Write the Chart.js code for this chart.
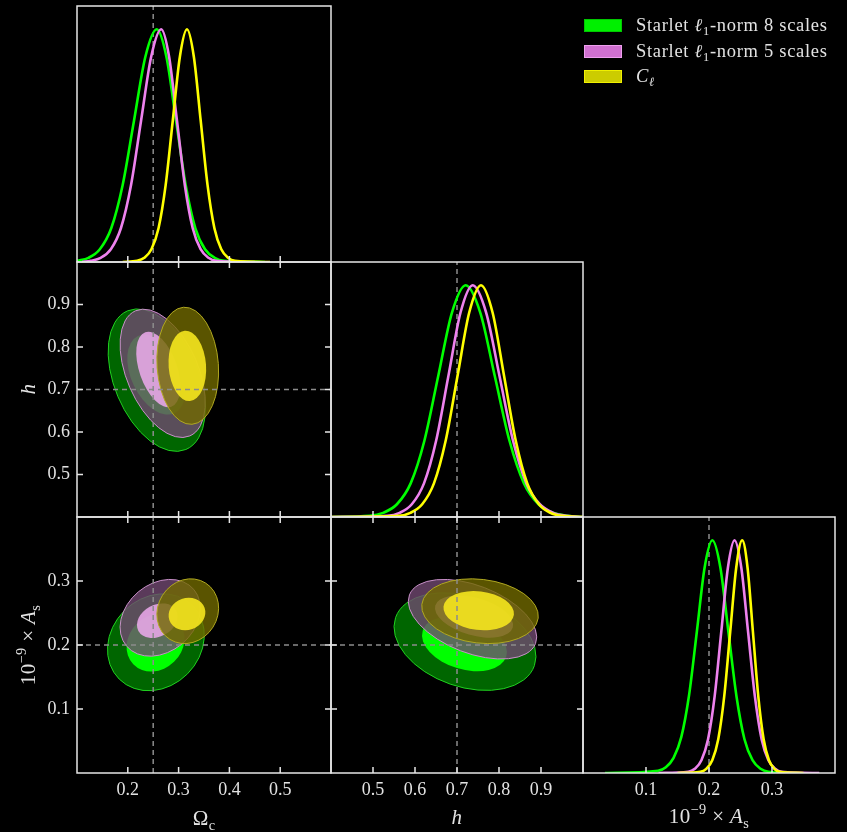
<!DOCTYPE html>
<html>
<head>
<meta charset="utf-8">
<script src="https://cdn.jsdelivr.net/npm/chart.js@4.4.1/dist/chart.umd.min.js"></script>
<style>
  body { margin: 0; background: #000; }
  #wrap { position: relative; width: 847px; height: 832px; background: #000; overflow: hidden;
          font-family: "Liberation Serif", "DejaVu Serif", serif; color: #e2e2e2; }
  #wrap canvas { position: absolute; left: 0; top: 0; }
  .lbl { position: absolute; font-size: 21px; letter-spacing: 0.4px; white-space: nowrap; transform: translate(-50%, -50%); }
  .lbl.rot { transform: translate(-50%, -50%) rotate(-90deg); }
  .sub { font-size: 0.68em; position: relative; top: 0.32em; }
  .sup { font-size: 0.68em; position: relative; top: -0.6em; }
  #legend { position: absolute; left: 584px; top: 13px; font-size: 18.5px; letter-spacing: 0.7px; }
  #legend .row { display: flex; align-items: center; height: 25.5px; }
  #legend .sw { width: 36px; height: 11px; border: 1.5px solid; margin: 0 14px 0 0; }
</style>
</head>
<body>
<div id="wrap">
  <canvas id="c-omc" width="847" height="832"></canvas>
  <canvas id="c-h" width="847" height="832"></canvas>
  <canvas id="c-as" width="847" height="832"></canvas>
  <canvas id="c-omc-h" width="847" height="832"></canvas>
  <canvas id="c-omc-as" width="847" height="832"></canvas>
  <canvas id="c-h-as" width="847" height="832"></canvas>

  <div id="legend">
    <div class="row"><span class="sw" style="background:#00f000;border-color:#00c800"></span><span>Starlet <i>ℓ</i><span class="sub">1</span>-norm 8 scales</span></div>
    <div class="row"><span class="sw" style="background:#d070d0;border-color:#eea0ee"></span><span>Starlet <i>ℓ</i><span class="sub">1</span>-norm 5 scales</span></div>
    <div class="row"><span class="sw" style="background:#cccc00;border-color:#f0f000"></span><span><i>C</i><span class="sub"><i>ℓ</i></span></span></div>
  </div>

  <div class="lbl" style="left:204px;top:818px">Ω<span class="sub">c</span></div>
  <div class="lbl" style="left:457px;top:817px"><i>h</i></div>
  <div class="lbl" style="left:709px;top:816px">10<span class="sup">−9</span> × <i>A</i><span class="sub">s</span></div>
  <div class="lbl rot" style="left:28px;top:389px"><i>h</i></div>
  <div class="lbl rot" style="left:28px;top:645px">10<span class="sup">−9</span> × <i>A</i><span class="sub">s</span></div>
</div>

<script>
/* Corner plot: Ωc, h, 10^-9 As — three runs (Starlet 8 scales, Starlet 5 scales, Cℓ). */

const OMC_RANGE = [0.1, 0.6];
const H_RANGE = [0.4, 1.0];
const AS_RANGE = [0.0, 0.4];
const PDF_RANGE = [0, 1.1];

const OMC_TICKS = [0.2, 0.3, 0.4, 0.5];
const H_TICKS = [0.5, 0.6, 0.7, 0.8, 0.9];
const AS_TICKS = [0.1, 0.2, 0.3];

const TRUE_OMC = 0.25;
const TRUE_H = 0.7;
const TRUE_AS = 0.2;

// 1D marginals (normalised to peak = 1)
const OMC_X8 = [0.100, 0.1226, 0.145, 0.1674, 0.1898, 0.2122, 0.2346, 0.257, 0.276, 0.295, 0.314, 0.333, 0.352, 0.371, 0.390, 0.470];
const OMC_Y8 = [0.005, 0.018, 0.055, 0.145, 0.330, 0.607, 0.882, 1.000, 0.882, 0.607, 0.330, 0.145, 0.055, 0.018, 0.005, 0.000];
const OMC_X5 = [0.110, 0.1268, 0.1467, 0.1666, 0.1864, 0.2063, 0.2261, 0.2460, 0.2658, 0.2813, 0.2968, 0.3123, 0.3278, 0.3433, 0.3588, 0.3743, 0.450];
const OMC_Y5 = [0.000, 0.005, 0.018, 0.055, 0.145, 0.330, 0.607, 0.882, 1.000, 0.882, 0.607, 0.330, 0.145, 0.055, 0.018, 0.005, 0.000];
const OMC_XC = [0.190, 0.2185, 0.2325, 0.2465, 0.2605, 0.2745, 0.2885, 0.3025, 0.3165, 0.3300, 0.3435, 0.3570, 0.3705, 0.3840, 0.3975, 0.4110, 0.480];
const OMC_YC = [0.000, 0.005, 0.018, 0.055, 0.145, 0.330, 0.607, 0.882, 1.000, 0.882, 0.607, 0.330, 0.145, 0.055, 0.018, 0.005, 0.000];

const H_X8 = [0.400, 0.4915, 0.5242, 0.5570, 0.5897, 0.6225, 0.6552, 0.6880, 0.7207, 0.7554, 0.7901, 0.8248, 0.8595, 0.8942, 0.9289, 0.9636, 1.000];
const H_Y8 = [0.000, 0.005, 0.018, 0.055, 0.145, 0.330, 0.607, 0.882, 1.000, 0.882, 0.607, 0.330, 0.145, 0.055, 0.018, 0.005, 0.000];
const H_X5 = [0.400, 0.5344, 0.5634, 0.5924, 0.6214, 0.6504, 0.6794, 0.7084, 0.7374, 0.7694, 0.8013, 0.8333, 0.8652, 0.8972, 0.9291, 0.9611, 1.000];
const H_Y5 = [0.000, 0.005, 0.018, 0.055, 0.145, 0.330, 0.607, 0.882, 1.000, 0.882, 0.607, 0.330, 0.145, 0.055, 0.018, 0.005, 0.000];
const H_XC = [0.400, 0.5611, 0.5891, 0.6171, 0.6451, 0.6731, 0.7011, 0.7291, 0.7571, 0.7847, 0.8122, 0.8398, 0.8673, 0.8949, 0.9224, 0.9500, 1.000];
const H_YC = [0.000, 0.005, 0.018, 0.055, 0.145, 0.330, 0.607, 0.882, 1.000, 0.882, 0.607, 0.330, 0.145, 0.055, 0.018, 0.005, 0.000];

const AS_X8 = [0.035, 0.1192, 0.1315, 0.1438, 0.1561, 0.1684, 0.1807, 0.1930, 0.2053, 0.2181, 0.2308, 0.2436, 0.2563, 0.2691, 0.2818, 0.2946, 0.340];
const AS_Y8 = [0.000, 0.010, 0.025, 0.065, 0.155, 0.335, 0.607, 0.882, 1.000, 0.882, 0.607, 0.330, 0.145, 0.055, 0.018, 0.005, 0.000];
const AS_X5 = [0.120, 0.1670, 0.1775, 0.1880, 0.1985, 0.2090, 0.2195, 0.2300, 0.2405, 0.2513, 0.2620, 0.2728, 0.2835, 0.2943, 0.3050, 0.3158, 0.375];
const AS_Y5 = [0.000, 0.005, 0.018, 0.055, 0.145, 0.330, 0.607, 0.882, 1.000, 0.882, 0.607, 0.330, 0.145, 0.055, 0.018, 0.005, 0.000];
const AS_XC = [0.150, 0.1862, 0.1957, 0.2052, 0.2147, 0.2242, 0.2337, 0.2432, 0.2527, 0.2612, 0.2697, 0.2782, 0.2867, 0.2952, 0.3037, 0.3122, 0.350];
const AS_YC = [0.000, 0.005, 0.018, 0.055, 0.145, 0.330, 0.607, 0.882, 1.000, 0.882, 0.607, 0.330, 0.145, 0.055, 0.018, 0.005, 0.000];

// 2D contours: [series, level (0 = outer, 1 = inner), centre x, centre y, half-width x, half-height y, correlation]
const OMC_H_CONTOURS = [
  [0, 0, 0.2570, 0.7220, 0.0957, 0.1676, -0.40],
  [0, 1, 0.2560, 0.7350, 0.0570, 0.0940, -0.40],
  [1, 0, 0.2687, 0.7380, 0.0839, 0.1510, -0.45],
  [1, 1, 0.2600, 0.7470, 0.0434, 0.0890, -0.45],
  [2, 0, 0.3180, 0.7558, 0.0608, 0.1378, -0.10],
  [2, 1, 0.3172, 0.7556, 0.0371, 0.0828, -0.10],
];
const OMC_AS_CONTOURS = [
  [0, 0, 0.2553, 0.2042, 0.0953, 0.0757, 0.15],
  [0, 1, 0.2546, 0.2036, 0.0570, 0.0450, 0.15],
  [1, 0, 0.2638, 0.2425, 0.0790, 0.0600, 0.25],
  [1, 1, 0.2580, 0.2380, 0.0400, 0.0270, 0.25],
  [2, 0, 0.3180, 0.2528, 0.0608, 0.0506, 0.10],
  [2, 1, 0.3165, 0.2484, 0.0362, 0.0254, 0.10],
];
const H_AS_CONTOURS = [
  [0, 0, 0.7190, 0.2053, 0.1690, 0.0763, -0.30],
  [0, 1, 0.7177, 0.2020, 0.1010, 0.0430, -0.30],
  [1, 0, 0.7369, 0.2403, 0.1529, 0.0622, -0.45],
  [1, 1, 0.7405, 0.2445, 0.0930, 0.0330, -0.40],
  [2, 0, 0.7548, 0.2528, 0.1388, 0.0506, -0.15],
  [2, 1, 0.7517, 0.2536, 0.0840, 0.0306, -0.15],
];

const LINE_COLORS = ['#00ff00', '#ee82ee', '#ffff00'];
const OUTER_FILL = ['rgba(0,128,0,0.8)', 'rgba(112,72,112,0.8)', 'rgba(112,105,0,0.8)'];
const INNER_FILL = ['rgba(0,255,0,1)', 'rgba(238,170,238,0.85)', 'rgba(245,230,30,0.9)'];
const EDGE_COLORS = ['#20d020', '#c890c8', '#b0a820'];

const COL_L = [77, 331, 583];
const COL_R = [331, 583, 835];
const ROW_T = [6, 262, 517];
const ROW_B = [262, 517, 773];
const W = 847, H = 832;
const Y_AXIS_W = 60, X_AXIS_H = 30, TICK_LEN = 6;
const TEXT = '#e2e2e2';
const FRAME = '#e6e6e6';
const TICK_FONT = { family: '"Liberation Serif", "DejaVu Serif", serif', size: 18 };

const pts = (xs, ys) => xs.map((x, i) => ({ x, y: ys[i] }));

function curve(data, color, order) {
  return { data, borderColor: color, borderWidth: 2.6, pointRadius: 0, showLine: true,
           cubicInterpolationMode: 'monotone', order };
}
function dashed(data) {
  return { data, borderColor: '#8c8c8c', borderWidth: 1.5, borderDash: [5, 4], pointRadius: 0,
           showLine: true, order: 9 };
}

// inward ticks on every side of a panel (bottom only for the 1D panels) + frame
const framePlugin = {
  id: 'frame',
  afterDatasetsDraw(chart, args, o) {
    const { ctx, chartArea: a, scales: { x, y } } = chart;
    ctx.save();
    ctx.strokeStyle = FRAME;
    ctx.lineWidth = 1.5;
    ctx.beginPath();
    for (const v of o.xTicks) {
      const p = x.getPixelForValue(v);
      ctx.moveTo(p, a.bottom); ctx.lineTo(p, a.bottom - TICK_LEN);
      if (!o.diag) { ctx.moveTo(p, a.top); ctx.lineTo(p, a.top + TICK_LEN); }
    }
    if (!o.diag) {
      for (const v of o.yTicks) {
        const p = y.getPixelForValue(v);
        ctx.moveTo(a.left, p); ctx.lineTo(a.left + TICK_LEN, p);
        ctx.moveTo(a.right, p); ctx.lineTo(a.right - TICK_LEN, p);
      }
    }
    ctx.stroke();
    ctx.strokeRect(a.left, a.top, a.right - a.left, a.bottom - a.top);
    ctx.restore();
  },
};

// filled 2D confidence ellipses, placed through the panel's scales
const contourPlugin = {
  id: 'contours',
  beforeDatasetsDraw(chart, args, o) {
    if (!o.list) return;
    const { ctx, chartArea: a, scales: { x, y } } = chart;
    ctx.save();
    ctx.beginPath();
    ctx.rect(a.left, a.top, a.right - a.left, a.bottom - a.top);
    ctx.clip();
    for (const [s, lev, cx, cy, sx, sy, rho] of o.list) {
      const px = x.getPixelForValue(cx), py = y.getPixelForValue(cy);
      const kx = x.getPixelForValue(cx + sx) - px;
      const ky = y.getPixelForValue(cy + sy) - py;
      const a11 = kx * kx, a22 = ky * ky, a12 = rho * kx * ky;
      const mid = (a11 + a22) / 2;
      const d = Math.sqrt(((a11 - a22) / 2) ** 2 + a12 * a12);
      const r1 = Math.sqrt(mid + d), r2 = Math.sqrt(Math.max(mid - d, 0));
      const ang = 0.5 * Math.atan2(2 * a12, a11 - a22);
      ctx.beginPath();
      ctx.ellipse(px, py, r1, r2, ang, 0, Math.PI * 2);
      ctx.fillStyle = lev === 0 ? OUTER_FILL[s] : INNER_FILL[s];
      ctx.fill();
      if (lev === 0) {
        ctx.strokeStyle = EDGE_COLORS[s];
        ctx.lineWidth = 1;
        ctx.stroke();
      }
    }
    ctx.restore();
  },
};

function axis(range, ticks, show, pos, padding) {
  return {
    type: 'linear', position: pos, min: range[0], max: range[1], display: show,
    grid: { display: false, drawTicks: false },
    border: { display: false },
    afterBuildTicks: (s) => { s.ticks = ticks.map((value) => ({ value })); },
    afterFit: (s) => {
      if (pos === 'bottom') s.height = show ? X_AXIS_H : 0;
      else s.width = show ? Y_AXIS_W : 0;
    },
    ticks: { color: TEXT, font: TICK_FONT, padding, maxRotation: 0, autoSkip: false,
             callback: (v) => Number(v).toFixed(1) },
  };
}

function panel(id, col, row, xRange, yRange, xTicks, yTicks, datasets, contours) {
  const diag = col === row;
  const showX = row === 2;
  const showY = col === 0 && row > 0;
  new Chart(document.getElementById(id), {
    type: 'scatter',
    data: { datasets },
    options: {
      responsive: false, animation: false, events: [],
      layout: { autoPadding: false, padding: {
        left: showY ? COL_L[col] - Y_AXIS_W : COL_L[col],
        right: W - COL_R[col],
        top: ROW_T[row],
        bottom: showX ? H - ROW_B[row] - X_AXIS_H : H - ROW_B[row],
      } },
      scales: {
        x: axis(xRange, xTicks, showX, 'bottom', 6),
        y: axis(yRange, yTicks, showY, 'left', 7),
      },
      plugins: {
        legend: { display: false }, tooltip: { enabled: false },
        frame: { xTicks, yTicks, diag },
        contours: { list: contours },
      },
    },
    plugins: [contourPlugin, framePlugin],
  });
}

// diagonal: 1D marginals
panel('c-omc', 0, 0, OMC_RANGE, PDF_RANGE, OMC_TICKS, [], [
  curve(pts(OMC_XC, OMC_YC), LINE_COLORS[2], 0),
  curve(pts(OMC_X5, OMC_Y5), LINE_COLORS[1], 1),
  curve(pts(OMC_X8, OMC_Y8), LINE_COLORS[0], 2),
  dashed([{ x: TRUE_OMC, y: PDF_RANGE[0] }, { x: TRUE_OMC, y: PDF_RANGE[1] }]),
], null);
panel('c-h', 1, 1, H_RANGE, PDF_RANGE, H_TICKS, [], [
  curve(pts(H_XC, H_YC), LINE_COLORS[2], 0),
  curve(pts(H_X5, H_Y5), LINE_COLORS[1], 1),
  curve(pts(H_X8, H_Y8), LINE_COLORS[0], 2),
  dashed([{ x: TRUE_H, y: PDF_RANGE[0] }, { x: TRUE_H, y: PDF_RANGE[1] }]),
], null);
panel('c-as', 2, 2, AS_RANGE, PDF_RANGE, AS_TICKS, [], [
  curve(pts(AS_XC, AS_YC), LINE_COLORS[2], 0),
  curve(pts(AS_X5, AS_Y5), LINE_COLORS[1], 1),
  curve(pts(AS_X8, AS_Y8), LINE_COLORS[0], 2),
  dashed([{ x: TRUE_AS, y: PDF_RANGE[0] }, { x: TRUE_AS, y: PDF_RANGE[1] }]),
], null);

// off-diagonal: 2D contours with the fiducial cross-hair
panel('c-omc-h', 0, 1, OMC_RANGE, H_RANGE, OMC_TICKS, H_TICKS, [
  dashed([{ x: TRUE_OMC, y: H_RANGE[0] }, { x: TRUE_OMC, y: H_RANGE[1] }]),
  dashed([{ x: OMC_RANGE[0], y: TRUE_H }, { x: OMC_RANGE[1], y: TRUE_H }]),
], OMC_H_CONTOURS);
panel('c-omc-as', 0, 2, OMC_RANGE, AS_RANGE, OMC_TICKS, AS_TICKS, [
  dashed([{ x: TRUE_OMC, y: AS_RANGE[0] }, { x: TRUE_OMC, y: AS_RANGE[1] }]),
  dashed([{ x: OMC_RANGE[0], y: TRUE_AS }, { x: OMC_RANGE[1], y: TRUE_AS }]),
], OMC_AS_CONTOURS);
panel('c-h-as', 1, 2, H_RANGE, AS_RANGE, H_TICKS, AS_TICKS, [
  dashed([{ x: TRUE_H, y: AS_RANGE[0] }, { x: TRUE_H, y: AS_RANGE[1] }]),
  dashed([{ x: H_RANGE[0], y: TRUE_AS }, { x: H_RANGE[1], y: TRUE_AS }]),
], H_AS_CONTOURS);
</script>
</body>
</html>
